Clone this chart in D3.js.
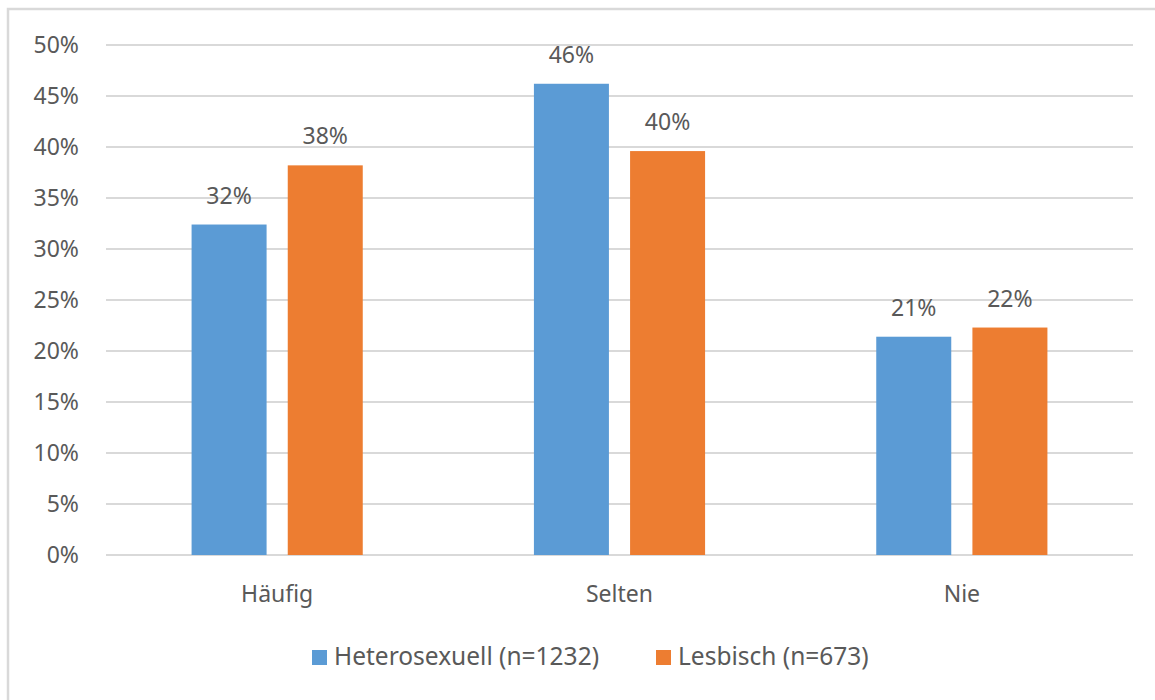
<!DOCTYPE html>
<html>
<head>
<meta charset="utf-8">
<script src="https://cdn.jsdelivr.net/npm/d3@7"></script>
<style>
  body { margin: 0; background: #fff; }
  text { font-family: "Noto Sans", "Open Sans", sans-serif; fill: #595959; }
</style>
</head>
<body>
<div id="chart"></div>
<script>
// Data
var categories = ["Häufig", "Selten", "Nie"];
var seriesNames = ["Heterosexuell (n=1232)", "Lesbisch (n=673)"];
var hetero = [32.4, 46.2, 21.4];
var lesbisch = [38.2, 39.6, 22.3];
var valueLabels = [["32%", "46%", "21%"], ["38%", "40%", "22%"]];
var yTicks = [0, 5, 10, 15, 20, 25, 30, 35, 40, 45, 50];
var colors = ["#5b9bd5", "#ed7d31"];

var width = 1155, height = 700;
var margin = { top: 45, right: 22, bottom: 145, left: 106 };
var innerW = width - margin.left - margin.right;
var innerH = height - margin.top - margin.bottom;

var svg = d3.select("#chart")
  .append("svg")
  .attr("width", width)
  .attr("height", height);

// outer frame (runs off the right and bottom edge)
svg.append("rect")
  .attr("x", 8)
  .attr("y", 9)
  .attr("width", 1200)
  .attr("height", 720)
  .attr("fill", "none")
  .attr("stroke", "#d9d9d9")
  .attr("stroke-width", 2.5);

var g = svg.append("g")
  .attr("transform", "translate(" + margin.left + "," + margin.top + ")");

var yScale = d3.scaleLinear().domain([0, 50]).range([innerH, 0]);

var x0 = d3.scaleBand()
  .domain(categories)
  .range([0, innerW])
  .paddingInner(0.5)
  .paddingOuter(0.25);

var x1 = d3.scaleBand()
  .domain([0, 1])
  .range([0, x0.bandwidth()])
  .paddingInner(0.22)
  .paddingOuter(0);

// gridlines
g.selectAll("line.grid")
  .data(yTicks)
  .enter()
  .append("line")
  .attr("class", "grid")
  .attr("x1", 0)
  .attr("x2", innerW)
  .attr("y1", function(d) { return yScale(d); })
  .attr("y2", function(d) { return yScale(d); })
  .attr("stroke", "#d9d9d9")
  .attr("stroke-width", 2);

// y axis labels
var yAxis = d3.axisLeft(yScale)
  .tickValues(yTicks)
  .tickFormat(function(d) { return d + "%"; })
  .tickSize(0)
  .tickPadding(27);

var yAxisG = g.append("g").call(yAxis);
yAxisG.select(".domain").remove();
yAxisG.selectAll("text")
  .style("font-size", "23px")
  .attr("fill", "#595959");

// x axis labels
var xAxis = d3.axisBottom(x0).tickSize(0).tickPadding(31);
var xAxisG = g.append("g")
  .attr("transform", "translate(0," + innerH + ")")
  .call(xAxis);
xAxisG.select(".domain").remove();
xAxisG.selectAll("text")
  .style("font-size", "23px")
  .attr("fill", "#595959");

// bars
var series = [hetero, lesbisch];
series.forEach(function(vals, si) {
  var grp = g.append("g");
  grp.selectAll("rect")
    .data(vals)
    .enter()
    .append("rect")
    .attr("x", function(d, i) { return x0(categories[i]) + x1(si); })
    .attr("y", function(d) { return yScale(d); })
    .attr("width", x1.bandwidth())
    .attr("height", function(d) { return innerH - yScale(d); })
    .attr("fill", colors[si]);

  grp.selectAll("text")
    .data(vals)
    .enter()
    .append("text")
    .attr("x", function(d, i) { return x0(categories[i]) + x1(si) + x1.bandwidth() / 2; })
    .attr("y", function(d) { return yScale(d) - 21; })
    .attr("text-anchor", "middle")
    .style("font-size", "23px")
    .text(function(d, i) { return valueLabels[si][i]; });
});

// legend
var legendX = [312, 656];
var legend = svg.append("g");
seriesNames.forEach(function(name, i) {
  legend.append("rect")
    .attr("x", legendX[i])
    .attr("y", 650)
    .attr("width", 15)
    .attr("height", 15)
    .attr("fill", colors[i]);
  legend.append("text")
    .attr("x", legendX[i] + 22)
    .attr("y", 665)
    .style("font-size", "24.5px")
    .text(name);
});
</script>
</body>
</html>
